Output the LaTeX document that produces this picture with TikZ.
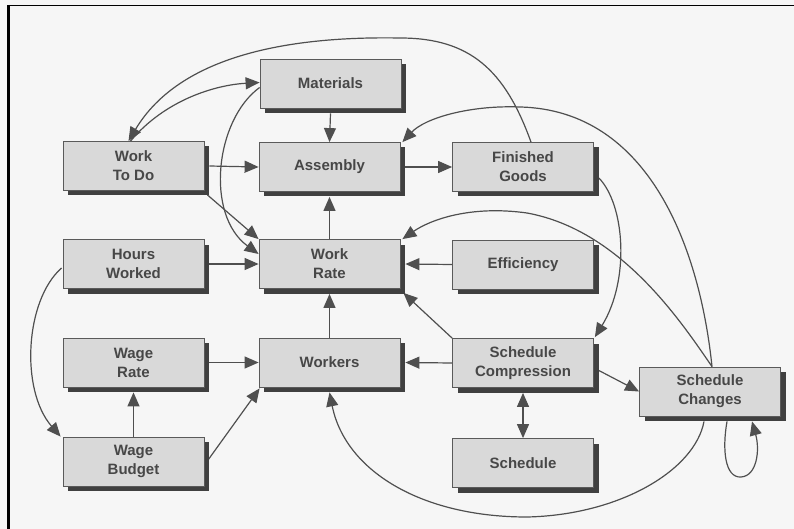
\documentclass[tikz,border=0pt]{standalone}
\usepackage{fontspec}
\setmainfont{Liberation Sans}
\usetikzlibrary{arrows.meta,calc,shadows,backgrounds}

\definecolor{pagebg}{HTML}{F6F6F6}
\definecolor{boxfill}{HTML}{D9D9D9}
\definecolor{boxline}{HTML}{5A5A5A}
\definecolor{shadowc}{HTML}{404040}
\definecolor{linec}{HTML}{4F4F4F}
\definecolor{textc}{HTML}{474747}

\tikzset{
  block/.style={
    draw=boxline, line width=0.8pt, fill=boxfill,
    minimum width=141pt, minimum height=49pt, inner sep=0pt,
    align=center, text=textc,
    font=\fontsize{15}{19}\selectfont\bfseries,
    drop shadow={shadow xshift=5pt, shadow yshift=-5pt, fill=shadowc, opacity=1}
  },
  conn/.style={draw=linec, line width=1.2pt,
    -{Triangle[length=14pt,width=12pt]}},
  twoway/.style={draw=linec, line width=1.2pt,
    {Triangle[length=14pt,width=12pt]}-{Triangle[length=14pt,width=12pt]}}
}

\begin{document}
\begin{tikzpicture}[x=1pt,y=-1pt]
\useasboundingbox (0,0) rectangle (794,529);

% page and frame
\begin{scope}[on background layer]
  \fill[pagebg] (0,0) rectangle (794,529);
\end{scope}
\draw[black, line width=1.8pt] (7,5.5) -- (794,5.5);
\draw[black, line width=3pt] (8.5,5) -- (8.5,529);

% blocks
\node[block] (mat)   at (330.5, 83.5) {Materials};
\node[block] (wtd)   at (133.5,166)   {Work\\To Do};
\node[block] (asm)   at (329.5,167)   {Assembly};
\node[block] (fg)    at (523,  167)   {Finished\\Goods};
\node[block] (hw)    at (133.5,264)   {Hours\\Worked};
\node[block] (wr)    at (329.5,264)   {Work\\Rate};
\node[block] (eff)   at (523,  264.5) {Efficiency};
\node[block] (wrate) at (133.5,362.5) {Wage\\Rate};
\node[block] (wk)    at (329.5,362.5) {Workers};
\node[block] (sc)    at (523,  363)   {Schedule\\Compression};
\node[block] (chg)   at (710,  391.5) {Schedule\\Changes};
\node[block] (wb)    at (133.5,461.5) {Wage\\Budget};
\node[block] (sch)   at (523,  463)   {Schedule};

% connectors
\begin{scope}[on background layer]
  % straight links
  \draw[conn] ($(mat.south)+(0,5)$) -- (asm.north);
  \draw[conn] ($(wtd.east)+(5,0)$) -- (asm.west);
  \draw[conn] ($(asm.east)+(5,0)$) -- (fg.west);
  \draw[conn] (wr.north) -- ($(asm.south)+(0,5)$);
  \draw[conn] ($(hw.east)+(5,0)$) -- (wr.west);
  \draw[conn] (eff.west) -- ($(wr.east)+(5,0)$);
  \draw[conn] (wk.north) -- ($(wr.south)+(0,5)$);
  \draw[conn] ($(wrate.east)+(5,0)$) -- (wk.west);
  \draw[conn] (sc.west) -- ($(wk.east)+(5,0)$);
  \draw[conn] (wb.north) -- ($(wrate.south)+(0,5)$);
  \draw[conn] ($(wb.east)+(4,-2)$) -- ($(wk.south west)+(1,1)$);
  \draw[conn] (sc.north west) -- ($(wr.south east)+(3,4)$);
  \draw[twoway] ($(sc.south)+(0,5)$) -- (sch.north);
  \draw[conn] ($(sc.east)+(4,7)$) -- (chg.west);
  \draw[conn] ($(wtd.south east)+(3,4)$) -- (wr.north west);

  % curved links
  \draw[conn] ($(mat.west)+(0,4)$) .. controls (215,120) and (205,215) .. ($(wr.west)+(0,-10)$);
  \draw[conn] ($(fg.north)+(8,0)$) .. controls (505,70) and (470,38) .. (400,38)
              .. controls (290,36) and (180,55) .. ($(wtd.north)+(-5,0)$);
  \draw[conn] ($(wtd.north)+(-3,0)$) .. controls (165,100) and (215,85) .. ($(mat.west)+(0,-1)$);
  \draw[conn] ($(chg.north)+(2,0)$) .. controls (700,250) and (650,110) .. (520,107)
              .. controls (470,105) and (425,118) .. ($(asm.north east)+(2,0)$);
  \draw[conn] ($(chg.north)+(2,0)$) .. controls (680,320) and (620,230) .. (527,213)
              .. controls (470,205) and (430,220) .. ($(wr.north east)+(2,0)$);
  \draw[conn] ($(fg.east)+(5,11)$) .. controls (625,205) and (630,280) .. ($(sc.north east)+(1,-1)$);
  \draw[conn] ($(hw.west)+(-1,4)$) .. controls (25,300) and (20,390) .. ($(wb.north west)+(-2,0)$);
  \draw[conn] ($(chg.south)+(-6,5)$) .. controls (695,470) and (620,515) .. (527,517)
              .. controls (420,517) and (345,470) .. ($(wk.south)+(0,5)$);
  \draw[conn] ($(chg.south)+(17,5)$) .. controls (722,450) and (725,478) .. (741,477)
              .. controls (757,476) and (760,450) .. ($(chg.south)+(42,5)$);
\end{scope}
\end{tikzpicture}
\end{document}
